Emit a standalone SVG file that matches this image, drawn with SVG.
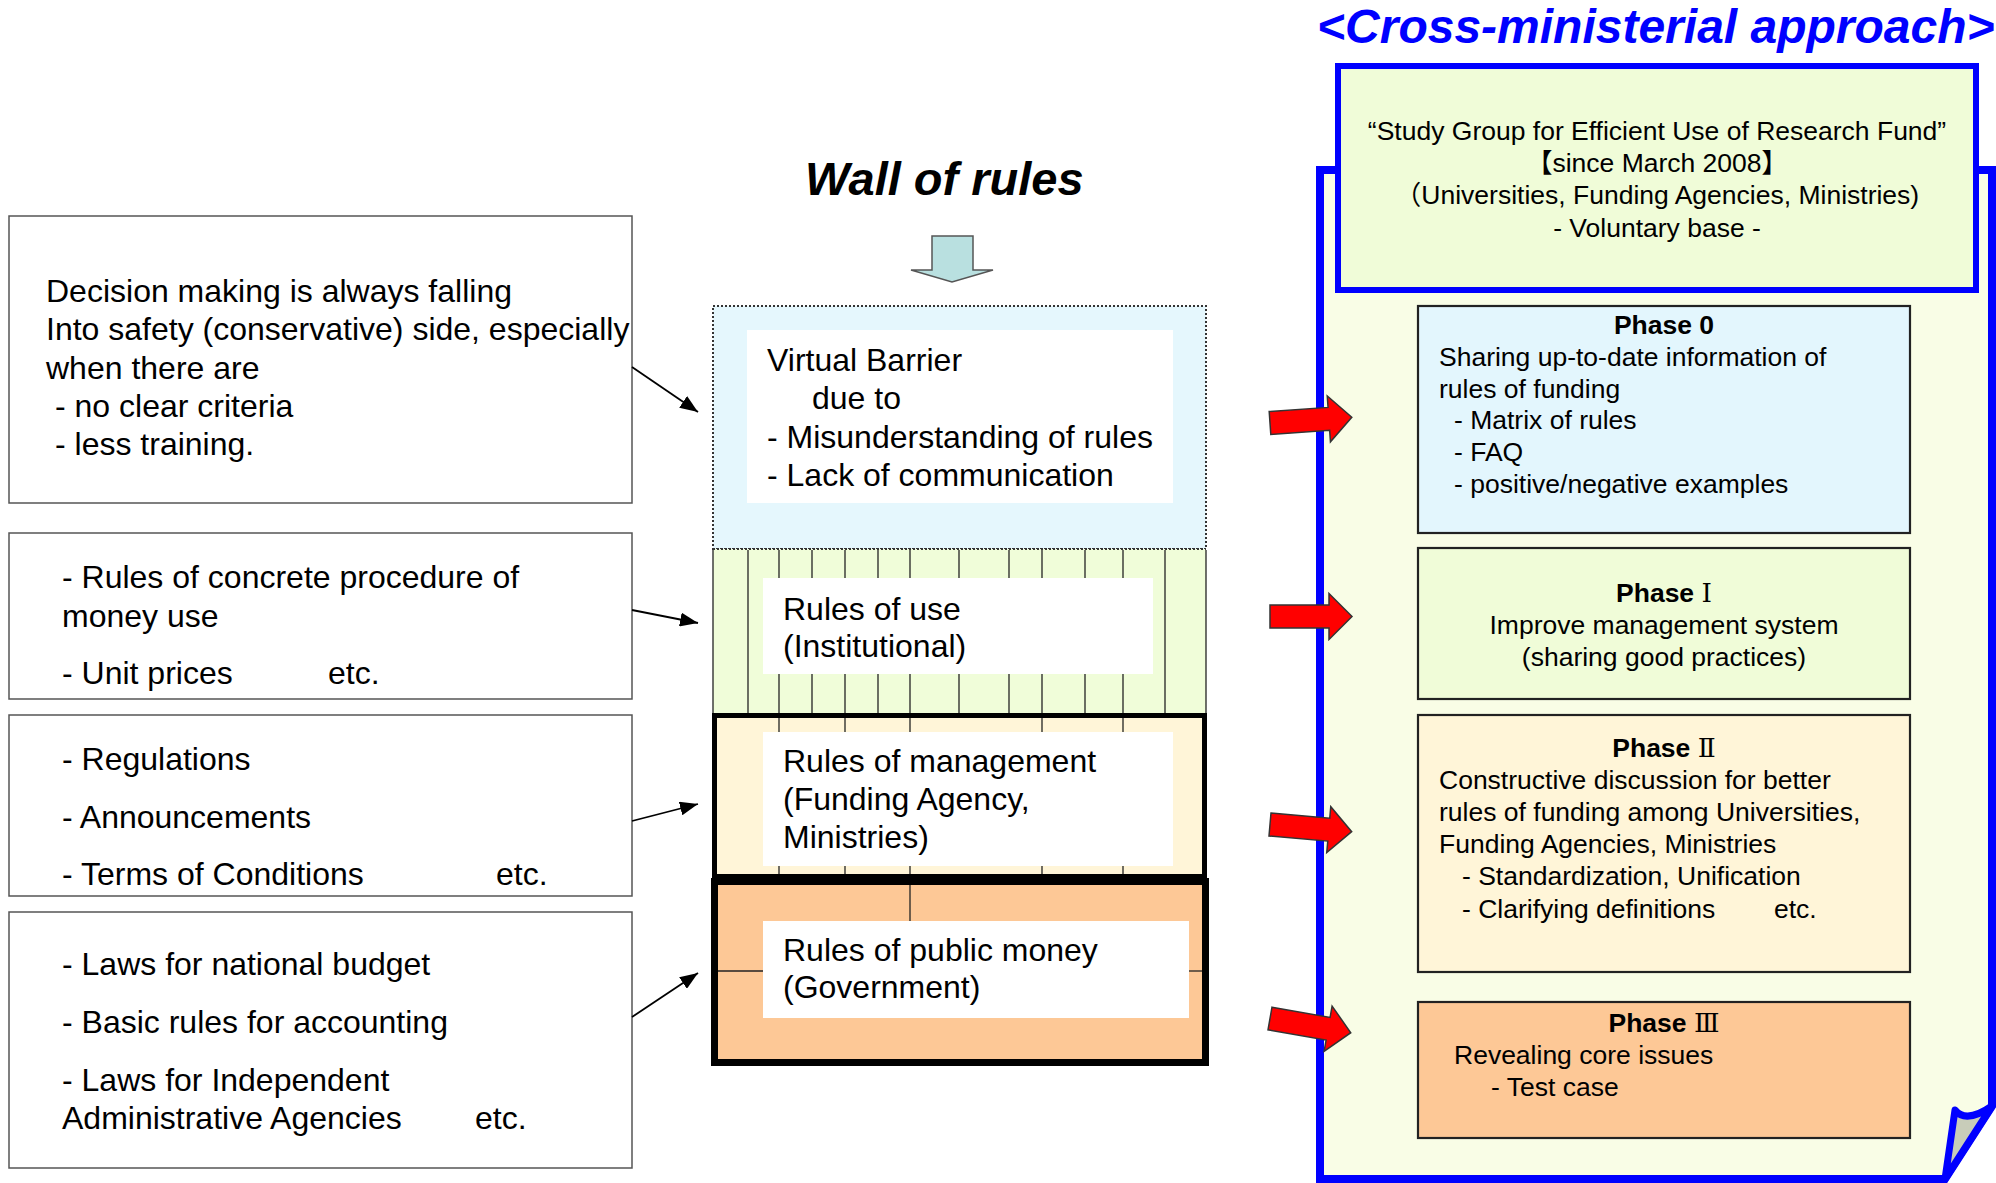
<svg xmlns="http://www.w3.org/2000/svg" width="1996" height="1183" viewBox="0 0 1996 1183">
<defs>
<style>
text{font-family:"Liberation Sans",Arial,"Noto Sans CJK JP",sans-serif;fill:#000}
.t32{font-size:32px}
.t26{font-size:26.5px}
.b{font-weight:bold}
.mid{text-anchor:middle}
.rn{font-family:"DejaVu Serif","Noto Sans CJK JP",serif;font-weight:normal}
.lbox{fill:#fff;stroke:#555;stroke-width:1.5}
.wbox{fill:#fff}
.vl{stroke:#222;stroke-width:1.3}
.phase{stroke:#222;stroke-width:2.2}
.conn{stroke:#000;stroke-width:1.8;fill:none;marker-end:url(#ah)}
.red{fill:#ff0000;stroke:#333;stroke-width:1.5;stroke-linejoin:miter}
</style>
<marker id="ah" viewBox="0 0 18 14" refX="18" refY="7" markerWidth="18" markerHeight="14" markerUnits="userSpaceOnUse" orient="auto">
<path d="M0,0 L18,7 L0,14 Z" fill="#000"/>
</marker>
<path id="redArrow" d="M0,-11.5 L59,-11.5 L59,-23 L82,0 L59,23 L59,11.5 L0,11.5 Z"/>
</defs>
<rect width="1996" height="1183" fill="#fff"/>

<!-- Left boxes -->
<g id="left-box-1">
<rect class="lbox" x="9" y="216" width="623" height="287"/>
<text class="t32" x="46" y="302">Decision making is always falling</text>
<text class="t32" x="46" y="340">Into safety (conservative) side, especially</text>
<text class="t32" x="46" y="379">when there are</text>
<text class="t32" x="55" y="417">- no clear criteria</text>
<text class="t32" x="55" y="455">- less training.</text>
</g>
<g id="left-box-2">
<rect class="lbox" x="9" y="533" width="623" height="166"/>
<text class="t32" x="62" y="588">- Rules of concrete procedure of</text>
<text class="t32" x="62" y="627">money use</text>
<text class="t32" x="62" y="684">- Unit prices</text>
<text class="t32" x="328" y="684">etc.</text>
</g>
<g id="left-box-3">
<rect class="lbox" x="9" y="715" width="623" height="181"/>
<text class="t32" x="62" y="770">- Regulations</text>
<text class="t32" x="62" y="828">- Announcements</text>
<text class="t32" x="62" y="885">- Terms of Conditions</text>
<text class="t32" x="496" y="885">etc.</text>
</g>
<g id="left-box-4">
<rect class="lbox" x="9" y="912" width="623" height="256"/>
<text class="t32" x="62" y="975">- Laws for national budget</text>
<text class="t32" x="62" y="1033">- Basic rules for accounting</text>
<text class="t32" x="62" y="1091">- Laws for Independent</text>
<text class="t32" x="62" y="1129">Administrative Agencies</text>
<text class="t32" x="475" y="1129">etc.</text>
</g>

<!-- Wall of rules -->
<g id="wall-title">
<text x="805" y="195" style="font-size:47px;font-weight:bold;font-style:italic">Wall of rules</text>
</g>
<g id="wall-down-arrow">
<polygon points="932,236 973,236 973,270 993,270 952,282 911,270 932,270" fill="#b9e0e0" stroke="#555" stroke-width="1.5"/>
</g>
<g id="wall-virtual-barrier">
<rect x="713" y="306" width="493" height="243" fill="#e5f7fd" stroke="#333" stroke-width="2" stroke-dasharray="2 2"/>
<rect class="wbox" x="747" y="330" width="426" height="173"/>
<text class="t32" x="767" y="371">Virtual Barrier</text>
<text class="t32" x="812" y="409">due to</text>
<text class="t32" x="767" y="448">- Misunderstanding of rules</text>
<text class="t32" x="767" y="486">- Lack of communication</text>
</g>
<g id="wall-rules-of-use">
<rect x="713" y="549" width="493" height="164" fill="#f0fdd9"/>
<line x1="713" y1="549" x2="1206" y2="549" stroke="#333" stroke-width="2" stroke-dasharray="2 2"/>
<g class="vl">
<line x1="713" y1="550" x2="713" y2="713"/><line x1="1206" y1="550" x2="1206" y2="713"/>
<line x1="748" y1="550" x2="748" y2="713"/><line x1="779" y1="550" x2="779" y2="713"/>
<line x1="812" y1="550" x2="812" y2="713"/><line x1="845" y1="550" x2="845" y2="713"/>
<line x1="878" y1="550" x2="878" y2="713"/><line x1="910" y1="550" x2="910" y2="713"/>
<line x1="959" y1="550" x2="959" y2="713"/><line x1="1009" y1="550" x2="1009" y2="713"/>
<line x1="1042" y1="550" x2="1042" y2="713"/><line x1="1085" y1="550" x2="1085" y2="713"/>
<line x1="1123" y1="550" x2="1123" y2="713"/><line x1="1165" y1="550" x2="1165" y2="713"/>
</g>
<rect class="wbox" x="763" y="578" width="390" height="96"/>
<text class="t32" x="783" y="620">Rules of use</text>
<text class="t32" x="783" y="657">(Institutional)</text>
</g>
<g id="wall-rules-of-management">
<rect x="714.5" y="715.5" width="490" height="161" fill="#fff5d8"/>
<g class="vl">
<line x1="779" y1="716" x2="779" y2="877"/><line x1="845" y1="716" x2="845" y2="877"/>
<line x1="910" y1="716" x2="910" y2="877"/><line x1="1042" y1="716" x2="1042" y2="877"/>
<line x1="1123" y1="716" x2="1123" y2="877"/>
</g>
<rect class="wbox" x="763" y="732" width="410" height="134"/>
<text class="t32" x="783" y="772">Rules of management</text>
<text class="t32" x="783" y="810">(Funding Agency,</text>
<text class="t32" x="783" y="848">Ministries)</text>
<rect x="714.5" y="715.5" width="490" height="161" fill="none" stroke="#000" stroke-width="5"/>
</g>
<g id="wall-rules-of-public-money">
<rect x="714.5" y="881.5" width="491" height="181" fill="#fdc896"/>
<g class="vl">
<line x1="910" y1="882" x2="910" y2="921"/>
<line x1="715" y1="971" x2="763" y2="971"/>
<line x1="1189" y1="971" x2="1206" y2="971"/>
</g>
<rect class="wbox" x="763" y="921" width="426" height="97"/>
<text class="t32" x="783" y="961">Rules of public money</text>
<text class="t32" x="783" y="998">(Government)</text>
<rect x="714.5" y="881.5" width="491" height="181" fill="none" stroke="#000" stroke-width="7"/>
</g>

<!-- Cross-ministerial approach -->
<g id="cross-title">
<text x="1317" y="43" style="font-size:48px;font-weight:bold;font-style:italic;fill:#0000ff">&lt;Cross-ministerial approach&gt;</text>
</g>
<g id="container">
<path d="M1320,170 H1992 V1106 L1945,1179 H1320 Z" fill="#f9fde6" stroke="#0000ff" stroke-width="8" stroke-linejoin="miter"/>
<path d="M1955,1110 Q1966,1124 1992,1106 L1945,1179 Z" fill="#c8ccb9" stroke="#0000ff" stroke-width="7" stroke-linejoin="round"/>
</g>
<g id="study-group">
<rect x="1338" y="66" width="638" height="224" fill="#f0fcd8" stroke="#0000ff" stroke-width="6"/>
<text class="t26 mid" x="1657" y="140">“Study Group for Efficient Use of Research Fund”</text>
<text class="t26 mid" x="1657" y="172">【since March 2008】</text>
<text class="t26 mid" x="1657" y="204">（Universities, Funding Agencies, Ministries)</text>
<text class="t26 mid" x="1657" y="237">- Voluntary base -</text>
</g>
<g id="phase-0">
<rect class="phase" x="1418" y="306" width="492" height="227" fill="#e3f6fd"/>
<text class="t26 b mid" x="1664" y="334">Phase 0</text>
<text class="t26" x="1439" y="366">Sharing up-to-date information of</text>
<text class="t26" x="1439" y="398">rules of funding</text>
<text class="t26" x="1454" y="429">- Matrix of rules</text>
<text class="t26" x="1454" y="461">- FAQ</text>
<text class="t26" x="1454" y="493">- positive/negative examples</text>
</g>
<g id="phase-1">
<rect class="phase" x="1418" y="548" width="492" height="151" fill="#f0fcd8"/>
<text class="t26 b mid" x="1664" y="602">Phase <tspan class="rn">Ⅰ</tspan></text>
<text class="t26 mid" x="1664" y="634">Improve management system</text>
<text class="t26 mid" x="1664" y="666">(sharing good practices)</text>
</g>
<g id="phase-2">
<rect class="phase" x="1418" y="715" width="492" height="257" fill="#fff5d8"/>
<text class="t26 b mid" x="1664" y="757">Phase <tspan class="rn">Ⅱ</tspan></text>
<text class="t26" x="1439" y="789">Constructive discussion for better</text>
<text class="t26" x="1439" y="821">rules of funding among Universities,</text>
<text class="t26" x="1439" y="853">Funding Agencies, Ministries</text>
<text class="t26" x="1462" y="885">- Standardization, Unification</text>
<text class="t26" x="1462" y="918">- Clarifying definitions</text>
<text class="t26" x="1774" y="918">etc.</text>
</g>
<g id="phase-3">
<rect class="phase" x="1418" y="1002" width="492" height="136" fill="#fdc896"/>
<text class="t26 b mid" x="1664" y="1032">Phase <tspan class="rn">Ⅲ</tspan></text>
<text class="t26" x="1454" y="1064">Revealing core issues</text>
<text class="t26" x="1491" y="1096">- Test case</text>
</g>

<!-- Connectors -->
<g id="connectors">
<line class="conn" x1="632" y1="367" x2="698" y2="412"/>
<line class="conn" x1="632" y1="610" x2="698" y2="623"/>
<line class="conn" x1="632" y1="821" x2="698" y2="804"/>
<line class="conn" x1="632" y1="1017" x2="698" y2="973"/>
<use href="#redArrow" class="red" transform="translate(1270,423) rotate(-4)"/>
<use href="#redArrow" class="red" transform="translate(1270,616.5)"/>
<use href="#redArrow" class="red" transform="translate(1270,824.5) rotate(5)"/>
<use href="#redArrow" class="red" transform="translate(1270,1018.5) rotate(10)"/>
</g>
</svg>
